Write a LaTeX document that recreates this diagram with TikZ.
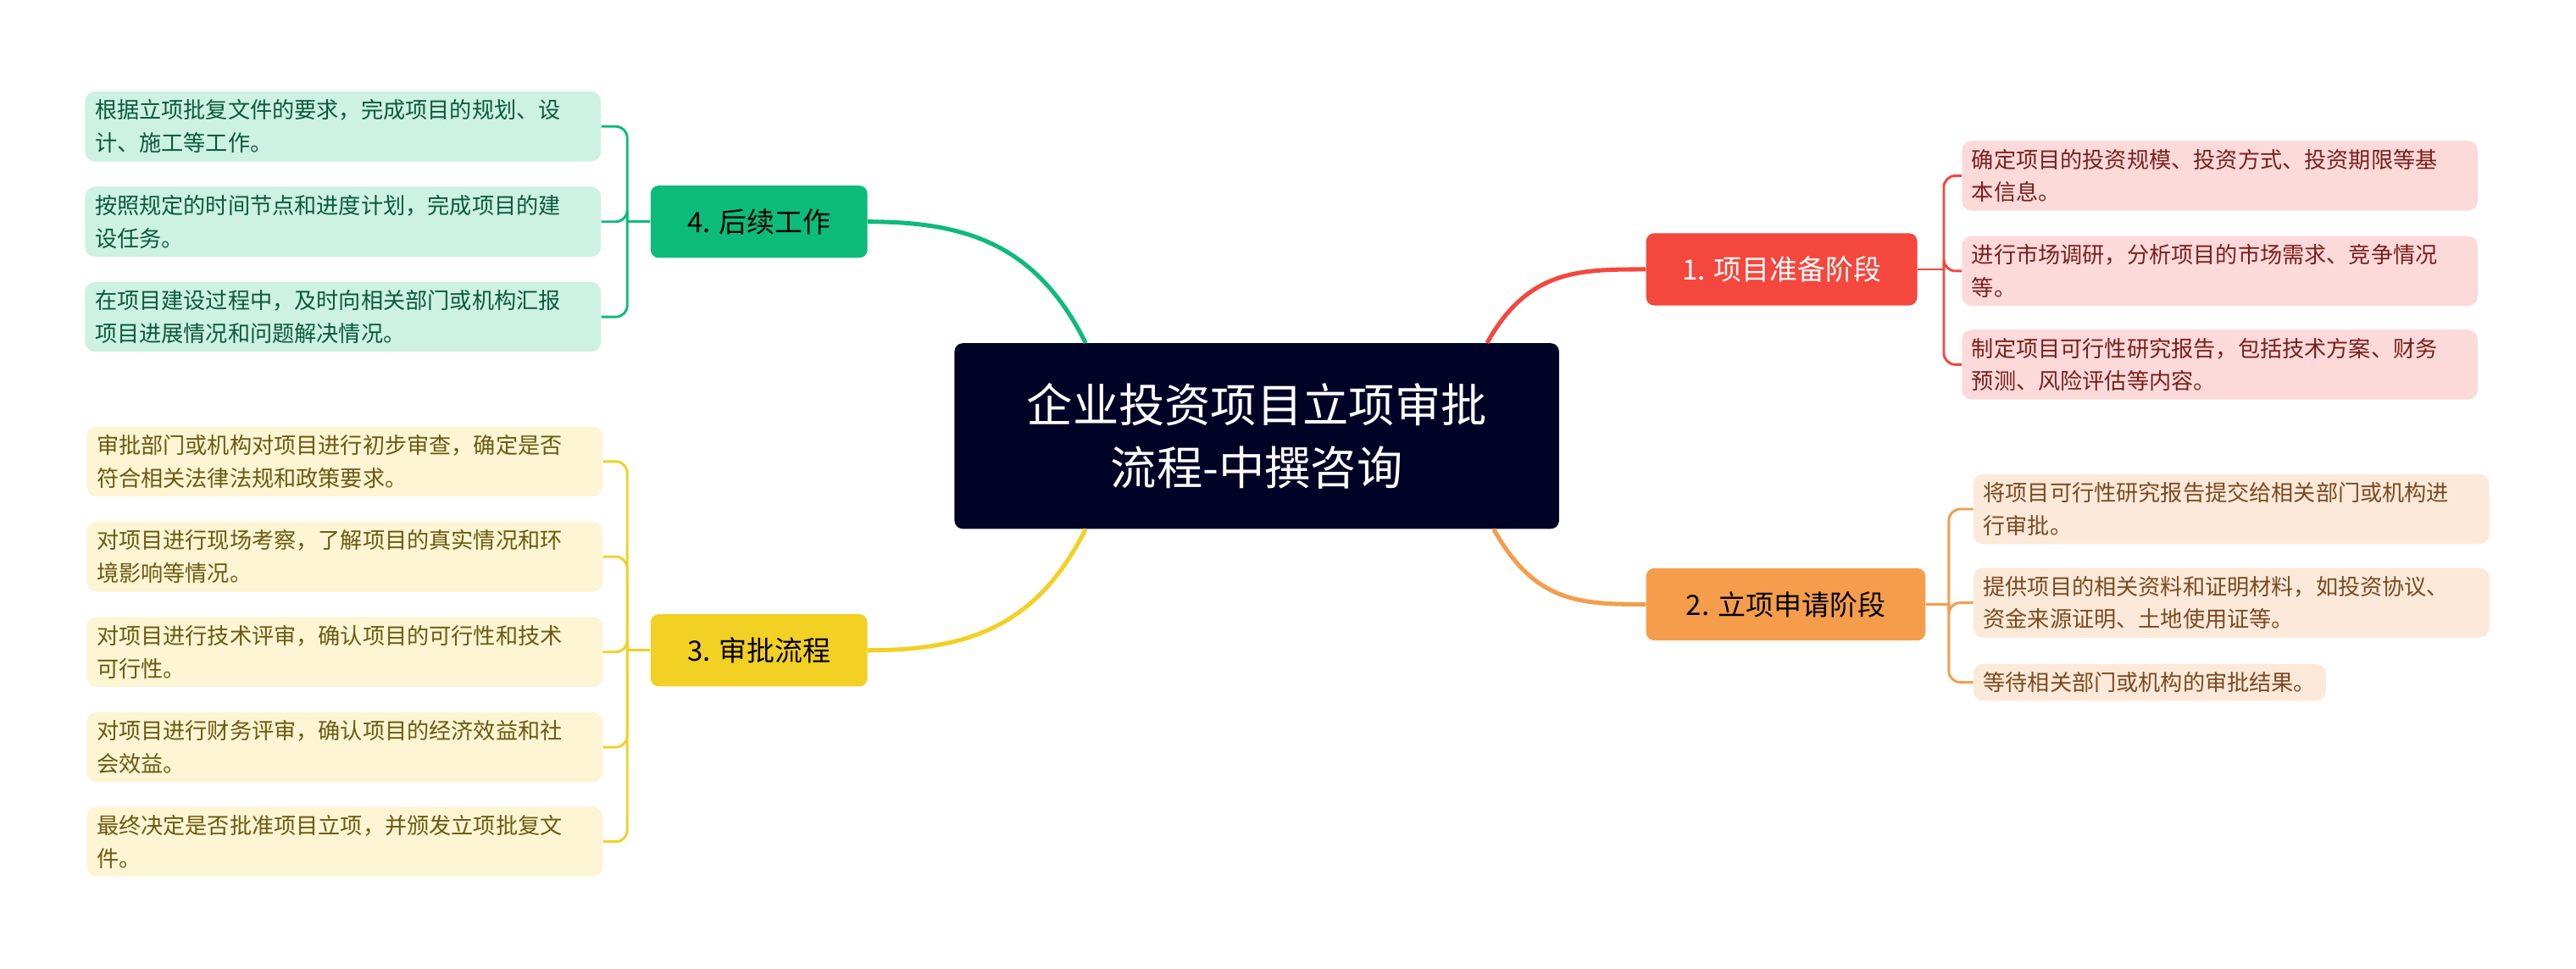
\documentclass[tikz,border=0pt]{standalone}
\usepackage{fontspec}
\setmainfont{Noto Sans CJK SC}
\usetikzlibrary{calc}
\definecolor{navy}{HTML}{000326}
\definecolor{cred}{HTML}{F4473D}
\definecolor{corg}{HTML}{F59D4B}
\definecolor{cyel}{HTML}{F2D024}
\definecolor{cgrn}{HTML}{0DBB7A}
\definecolor{fred}{HTML}{FDDADA}
\definecolor{forg}{HTML}{FDE9DA}
\definecolor{fyel}{HTML}{FDF5D3}
\definecolor{fgrn}{HTML}{CDF1E3}
\definecolor{tred}{HTML}{7A1F1A}
\definecolor{torg}{HTML}{7A4A1F}
\definecolor{tyel}{HTML}{6B5A10}
\definecolor{tgrn}{HTML}{0A5A3C}
\tikzset{
 topic/.style={rounded corners=5pt, minimum height=44pt, minimum width=132pt, inner sep=4pt, font=\fontsize{17}{20}\selectfont},
 leafbase/.style={rounded corners=6pt, inner xsep=6pt, inner ysep=5pt, align=left, font=\fontsize{13.5}{20}\selectfont},
 leaf/.style={leafbase, text width=302pt},
 conn/.style={line width=2.6pt},
 br/.style={line width=1.5pt, rounded corners=7pt},
}
\begin{document}
\begin{tikzpicture}[x=1pt,y=-1pt]
\useasboundingbox (0,0) rectangle (1568,590);
\fill[white] (0,0) rectangle (1568,590);
\node[fill=navy, text=white, rounded corners=5pt, minimum width=368pt, minimum height=113pt, align=center, font=\fontsize{28}{38}\selectfont] (c) at (765,265.5) {企业投资项目立项审批\\流程-中撰咨询};
\node[topic, fill=cred, text=white, minimum width=165pt] (t1) at (1084.5,164) {1. 项目准备阶段};
\node[topic, fill=corg, minimum width=170pt] (t2) at (1087,368) {2. 立项申请阶段};
\node[topic, fill=cyel] (t3) at (462,396) {3. 审批流程};
\node[topic, fill=cgrn] (t4) at (462,135) {4. 后续工作};
% leaves 1
\node[leaf, fill=fred, text=tred, anchor=west] (a1) at (1194,107) {确定项目的投资规模、投资方式、投资期限等基\\本信息。};
\node[leaf, fill=fred, text=tred, anchor=west] (a2) at (1194,165) {进行市场调研，分析项目的市场需求、竞争情况\\等。};
\node[leaf, fill=fred, text=tred, anchor=west] (a3) at (1194,222) {制定项目可行性研究报告，包括技术方案、财务\\预测、风险评估等内容。};
% leaves 2
\node[leaf, fill=forg, text=torg, anchor=west] (b1) at (1201,310) {将项目可行性研究报告提交给相关部门或机构进\\行审批。};
\node[leaf, fill=forg, text=torg, anchor=west] (b2) at (1201,367) {提供项目的相关资料和证明材料，如投资协议、\\资金来源证明、土地使用证等。};
\node[leafbase, fill=forg, text=torg, anchor=west] (b3) at (1201,415.5) {等待相关部门或机构的审批结果。};
% leaves 4
\node[leaf, fill=fgrn, text=tgrn, anchor=east] (d1) at (366,77) {根据立项批复文件的要求，完成项目的规划、设\\计、施工等工作。};
\node[leaf, fill=fgrn, text=tgrn, anchor=east] (d2) at (366,135) {按照规定的时间节点和进度计划，完成项目的建\\设任务。};
\node[leaf, fill=fgrn, text=tgrn, anchor=east] (d3) at (366,193) {在项目建设过程中，及时向相关部门或机构汇报\\项目进展情况和问题解决情况。};
% leaves 3
\node[leaf, fill=fyel, text=tyel, anchor=east] (e1) at (367,281) {审批部门或机构对项目进行初步审查，确定是否\\符合相关法律法规和政策要求。};
\node[leaf, fill=fyel, text=tyel, anchor=east] (e2) at (367,339) {对项目进行现场考察，了解项目的真实情况和环\\境影响等情况。};
\node[leaf, fill=fyel, text=tyel, anchor=east] (e3) at (367,397) {对项目进行技术评审，确认项目的可行性和技术\\可行性。};
\node[leaf, fill=fyel, text=tyel, anchor=east] (e4) at (367,455) {对项目进行财务评审，确认项目的经济效益和社\\会效益。};
\node[leaf, fill=fyel, text=tyel, anchor=east] (e5) at (367,512.5) {最终决定是否批准项目立项，并颁发立项批复文\\件。};
% main connectors
\coordinate (c1) at ([xshift=-44pt]c.north east);
\coordinate (c2) at ([xshift=-40pt]c.south east);
\coordinate (c3) at ([xshift=80pt]c.south west);
\coordinate (c4) at ([xshift=80pt]c.north west);
\draw[conn, cred] (c1) .. controls +(25,-45) and +(-40,0) .. (t1.west);
\draw[conn, corg] (c2) .. controls +(25,45) and +(-40,0) .. (t2.west);
\draw[conn, cyel] (c3) .. controls +(-30,60) and +(60,0) .. (t3.east);
\draw[conn, cgrn] (c4) .. controls +(-30,-60) and +(60,0) .. (t4.east);
% brackets
\coordinate (s1) at ([xshift=16pt]t1.east);
\coordinate (s2) at ([xshift=14pt]t2.east);
\coordinate (s3) at ([xshift=-14pt]t3.west);
\coordinate (s4) at ([xshift=-14pt]t4.west);
\draw[line width=1.5pt, cred] (t1.east) -- (s1);
\draw[line width=1.5pt, corg] (t2.east) -- (s2);
\draw[line width=1.5pt, cyel] (t3.west) -- (s3);
\draw[line width=1.5pt, cgrn] (t4.west) -- (s4);
\foreach \l in {a1,a2,a3} \draw[br, cred] (s1) |- (\l.west);
\foreach \l in {b1,b2,b3} \draw[br, corg] (s2) |- (\l.west);
\foreach \l in {d1,d2,d3} \draw[br, cgrn] (s4) |- (\l.east);
\foreach \l in {e1,e2,e3,e4,e5} \draw[br, cyel] (s3) |- (\l.east);
\end{tikzpicture}
\end{document}
